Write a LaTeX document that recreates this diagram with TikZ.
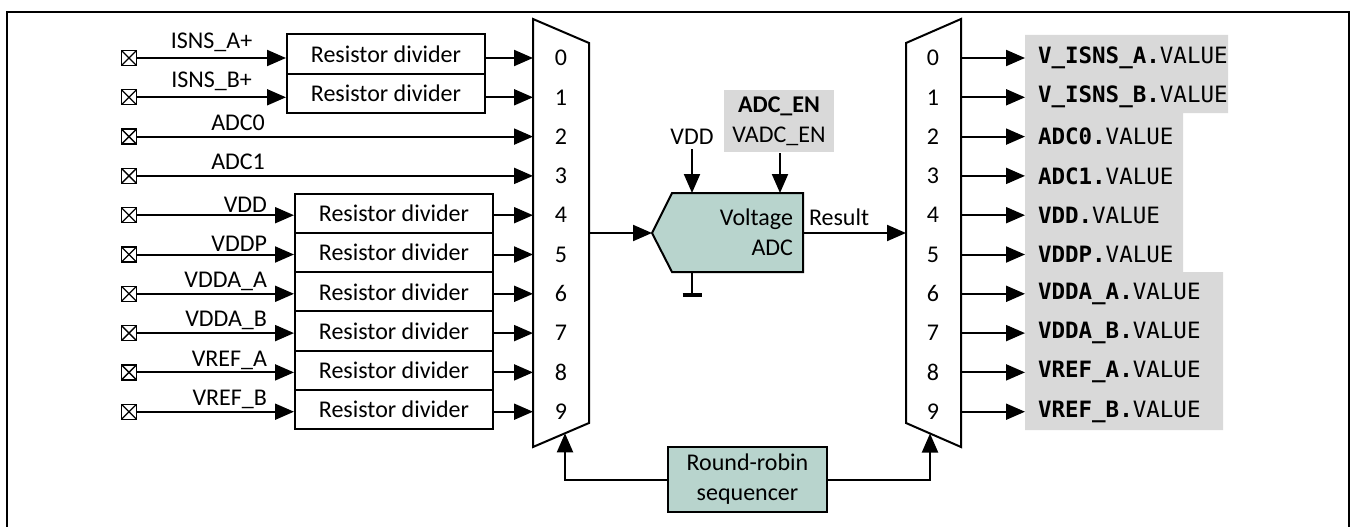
\documentclass[tikz,border=0pt]{standalone}
\usepackage{fontspec}
\setmainfont{Carlito}
\newfontfamily\codefont{DejaVu Sans Mono}
\usepackage{tikz}
\usetikzlibrary{arrows.meta,positioning,calc}
\definecolor{Sage}{HTML}{B8D4CD}
\definecolor{Shade}{HTML}{D9D9D9}

\begin{document}
\begin{tikzpicture}[x=1pt, y=-1pt, line width=2pt, >={Triangle[length=19pt,width=16pt]}, font=\fontsize{24}{30}\selectfont]
\tikzset{pin/.style={draw, line width=1.3pt, minimum size=15pt, inner sep=0pt, path picture={\draw[line width=1.3pt] (path picture bounding box.south west)--(path picture bounding box.north east) (path picture bounding box.north west)--(path picture bounding box.south east);}}, divider/.style={draw, fill=white, minimum width=198pt, minimum height=39.3pt, inner sep=0pt}, sagebox/.style={draw, fill=Sage, align=center, inner sep=0pt}, shadebox/.style={fill=Shade, align=center, inner sep=0pt}, outlabel/.style={anchor=west, inner xsep=12pt, inner ysep=0pt, font=\codefont\fontsize{22.5}{26}\selectfont}}
\useasboundingbox (0,0) rectangle (1355,527);
\draw[line width=2.5pt] (7,527) |- (1349,12) -- (1349,527);
% multiplexers
\draw (533,19) -- (589,43) -- (589,423) -- (533,447) -- cycle;
\draw (906,43) -- (961,19) -- (961,447) -- (906,423) -- cycle;
\foreach \i in {0,...,9} {
  \pgfmathsetmacro{\ry}{58+39.3*\i}
  \coordinate (lm\i) at (533,\ry);
  \coordinate (rm\i) at (961,\ry);
  \node (ln\i) at (561,\ry) {\i};
  \node (rn\i) at (933,\ry) {\i};
}
% inputs
\foreach \i/\sig in {0/ISNS\_A+,1/ISNS\_B+} {
  \node[pin] (t\i) at (129,{58+39.3*\i}) {};
  \node[divider] (r\i) at (386,{54+39.3*\i}) {Resistor divider};
  \draw[->] (t\i) -- (t\i -| r\i.west) node[midway, above=2pt] {\sig};
  \draw[->] (r\i.east |- lm\i) -- (lm\i);
}
\foreach \i/\n in {2/0,3/1} {
  \node[pin] (t\i) at (129,{58+39.3*\i}) {};
  \draw[->] (t\i) -- (lm\i) node[pos=.255, above=2pt] {ADC\n};
}
\foreach \i/\sig in {4/VDD,5/VDDP,6/VDDA\_A,7/VDDA\_B,8/VREF\_A,9/VREF\_B} {
  \node[pin] (t\i) at (129,{58+39.3*\i}) {};
  \node[divider] (r\i) at (394,{56+39.3*\i}) {Resistor divider};
  \node[anchor=south east, inner sep=2pt] (l\i) at (270,{58+39.3*\i}) {\sig};
  \draw[->] (t\i) -- (t\i -| r\i.west);
  \draw[->] (r\i.east |- lm\i) -- (lm\i);
}
% ADC
\coordinate (mxo) at (589,233);
\coordinate (rmx) at (906,233);
\draw[fill=Sage] (652,233) coordinate (adcin) -- (672,193) -- (803,193) -- (803,272) -- (672,272) -- cycle;
\coordinate (adcout) at (803,233);
\node[align=right, anchor=east, inner sep=0pt] (adc) at (794,232) {Voltage\\ADC};
\draw[->] (mxo) -- (adcin);
\draw[->] (adcout) -- (rmx);
\node[anchor=west, inner sep=0pt] (res) at (808,217) {Result};
\coordinate (adcvdd) at (692,193);
\coordinate (adcen) at (780,193);
\node (vdd) at (692,137) {VDD};
\draw[->] (vdd.south) -- (adcvdd);
\node[shadebox, minimum width=110pt, minimum height=62pt] (en) at (779,121) {\textbf{ADC\_EN}\\VADC\_EN};
\draw[->] (en.south -| adcen) -- (adcen);
\coordinate (gnd) at (692,295);
\draw (692,272) -- (gnd);
\draw[line width=3.5pt] ([xshift=-9.5pt]gnd) -- ([xshift=9.5pt]gnd);
% sequencer
\node[sagebox, minimum width=159pt, minimum height=65pt] (seq) at (747.5,479.5) {Round-robin\\sequencer};
\coordinate (lsel) at (565,433.3);
\coordinate (rsel) at (930,433.5);
\draw[->] (seq.west) -| (lsel);
\draw[->] (seq.east) -| (rsel);
% outputs
\fill[Shade] (1025,35) rectangle (1228,113) (1025,113) rectangle (1183,272) (1025,272) rectangle (1223,430);
\foreach \i/\sig in {0/V\_ISNS\_A,1/V\_ISNS\_B,2/ADC0,3/ADC1,4/VDD,5/VDDP,6/VDDA\_A,7/VDDA\_B,8/VREF\_A,9/VREF\_B} {
  \node[outlabel] (o\i) at (1025,{58+39.3*\i}) {\textbf{\sig.}VALUE};
  \draw[->] (rm\i) -- (o\i.west);
}
\end{tikzpicture}
\end{document}
